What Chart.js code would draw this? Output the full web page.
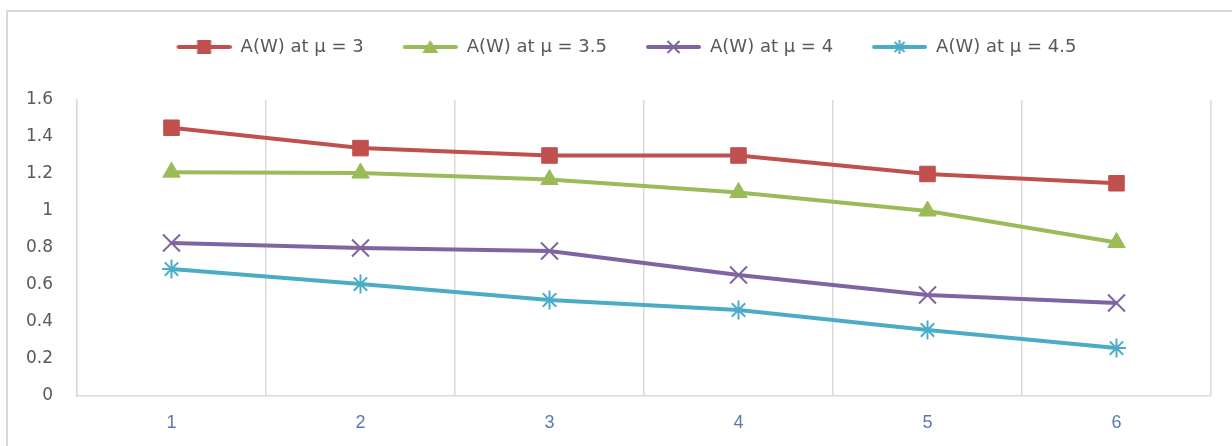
<!DOCTYPE html>
<html>
<head>
<meta charset="utf-8">
<title>A(W) by mu</title>
<style>
    body {
        margin: 0;
        background: #ffffff;
    }
    #wrap {
        width: 1232px;
        height: 446px;
    }
</style>
<script src="https://cdn.jsdelivr.net/npm/chart.js"></script>
</head>
<body>
<div id="wrap"><canvas id="chart" width="1232" height="446"></canvas></div>
<script>
    const categories = ['1', '2', '3', '4', '5', '6'];
    const seriesNames = ['A(W) at \u03bc = 3', 'A(W) at \u03bc = 3.5', 'A(W) at \u03bc = 4', 'A(W) at \u03bc = 4.5'];
    const mu3 = [1.45, 1.34, 1.30, 1.30, 1.20, 1.15];
    const mu35 = [1.21, 1.205, 1.17, 1.10, 1.00, 0.83];
    const mu4 = [0.827, 0.80, 0.784, 0.654, 0.546, 0.503];
    const mu45 = [0.686, 0.605, 0.519, 0.465, 0.357, 0.259];
    const yTickLabels = ['0', '0.2', '0.4', '0.6', '0.8', '1', '1.2', '1.4', '1.6'];

    const colors = ['#c0504d', '#9bbb59', '#8064a2', '#4bacc6'];
    const markers = ['rect', 'triangle', 'crossRot', 'star'];
    const markerSizes = [11, 10, 12, 9.5];

    // legend icon: a short line with the marker in its middle (blank left part acts as the gap)
    function makeIcon(color, style) {
        const c = document.createElement('canvas');
        c.width = 84;
        c.height = 20;
        const g = c.getContext('2d');
        g.strokeStyle = color;
        g.fillStyle = color;
        g.lineWidth = 4;
        g.lineCap = 'round';
        g.beginPath();
        g.moveTo(31, 10);
        g.lineTo(82, 10);
        g.stroke();
        const cx = 56.5, cy = 10;
        g.lineWidth = 2;
        g.lineCap = 'butt';
        if (style === 'rect') {
            g.fillRect(cx - 7, cy - 7, 14, 14);
        } else if (style === 'triangle') {
            g.beginPath();
            g.moveTo(cx, cy - 7);
            g.lineTo(cx + 8, cy + 6);
            g.lineTo(cx - 8, cy + 6);
            g.closePath();
            g.fill();
        } else if (style === 'crossRot') {
            g.beginPath();
            g.moveTo(cx - 6, cy - 6); g.lineTo(cx + 6, cy + 6);
            g.moveTo(cx + 6, cy - 6); g.lineTo(cx - 6, cy + 6);
            g.stroke();
        } else {
            g.beginPath();
            g.moveTo(cx, cy - 7); g.lineTo(cx, cy + 7);
            g.moveTo(cx - 5, cy - 5); g.lineTo(cx + 5, cy + 5);
            g.moveTo(cx + 5, cy - 5); g.lineTo(cx - 5, cy + 5);
            g.stroke();
        }
        return c;
    }
    const legendIcons = colors.map((c, i) => makeIcon(c, markers[i]));

    const seriesData = [mu3, mu35, mu4, mu45];
    const datasets = seriesData.map((d, i) => ({
        label: seriesNames[i],
        data: d,
        borderColor: colors[i],
        backgroundColor: colors[i],
        borderWidth: 4,
        pointStyle: markers[i],
        pointRadius: markerSizes[i],
        pointHoverRadius: markerSizes[i],
        pointBorderWidth: (i < 2) ? 1 : 2,
        pointBorderColor: colors[i],
        pointBackgroundColor: colors[i],
        tension: 0,
        fill: false
    }));

    // outer frame of the chart, like the office chart border
    const framePlugin = {
        id: 'frame',
        beforeDraw(chart) {
            const ctx = chart.ctx;
            ctx.save();
            ctx.fillStyle = '#ffffff';
            ctx.fillRect(0, 0, chart.width, chart.height);
            ctx.strokeStyle = '#d9d9d9';
            ctx.lineWidth = 2;
            ctx.strokeRect(7, 11, chart.width + 20, chart.height + 20);
            ctx.restore();
        }
    };

    // push the plot area down below the legend
    const legendGap = {
        id: 'legendGap',
        beforeLayout(chart) {
            const lg = chart.legend;
            if (lg && !lg._gapPatched) {
                const fit = lg.fit;
                lg.fit = function() {
                    fit.call(this);
                    this.height += 34;
                };
                lg._gapPatched = true;
            }
        }
    };

    const ctx = document.getElementById('chart').getContext('2d');
    const myChart = new Chart(ctx, {
        type: 'line',
        data: {
            labels: categories,
            datasets: datasets
        },
        plugins: [framePlugin, legendGap],
        options: {
            responsive: false,
            animation: false,
            layout: {
                padding: { left: 13, right: 21, top: 28, bottom: 0 }
            },
            plugins: {
                tooltip: { enabled: false },
                legend: {
                    position: 'top',
                    labels: {
                        usePointStyle: true,
                        pointStyleWidth: 84,
                        padding: 10,
                        color: '#595959',
                        font: { family: 'DejaVu Sans', size: 18 },
                        generateLabels(chart) {
                            const items = Chart.defaults.plugins.legend.labels.generateLabels(chart);
                            items.forEach((it, i) => {
                                it.pointStyle = legendIcons[i];
                                it.fontColor = '#595959';
                            });
                            return items;
                        }
                    }
                }
            },
            scales: {
                x: {
                    offset: true,
                    grid: {
                        display: true,
                        offset: true,
                        color: '#d9d9d9',
                        lineWidth: 1.5,
                        drawTicks: false
                    },
                    border: { display: true, color: '#d9d9d9', width: 1.5 },
                    ticks: {
                        padding: 16,
                        color: '#5a7ab0',
                        font: { family: 'Liberation Sans', size: 18 }
                    },
                    afterFit(scale) {
                        scale.height = 50;
                    }
                },
                y: {
                    min: 0,
                    max: 1.6,
                    grid: { display: false, drawTicks: false },
                    border: { display: true, color: '#d9d9d9', width: 1.5 },
                    ticks: {
                        stepSize: 0.2,
                        padding: 24,
                        color: '#595959',
                        font: { family: 'DejaVu Sans', size: 17 },
                        callback: function(value) {
                            return yTickLabels[Math.round(value / 0.2)];
                        }
                    },
                    afterFit(scale) {
                        scale.width = 64;
                    }
                }
            }
        }
    });
</script>
</body>
</html>
